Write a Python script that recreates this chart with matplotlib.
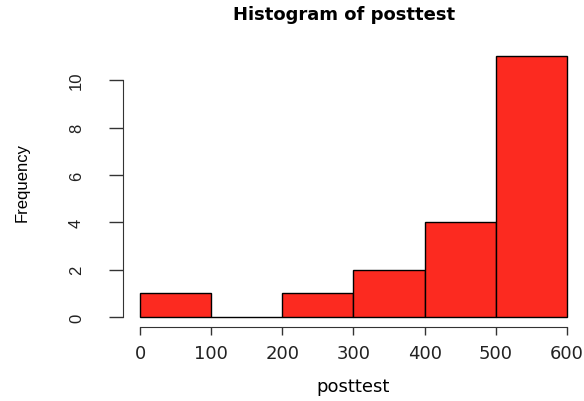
import matplotlib.pyplot as plt

plt.rcParams['font.family'] = ['Liberation Sans', 'DejaVu Sans']

# histogram bins and counts
bin_edges = [0, 100, 200, 300, 400, 500, 600]
counts = [1, 0, 1, 2, 4, 11]
x_ticks = [0, 100, 200, 300, 400, 500, 600]
y_ticks = [0, 2, 4, 6, 8, 10]

fig = plt.figure(figsize=(5.84, 4.02), dpi=100)
ax = fig.add_axes([0.2106, 0.183, 0.7894, 0.70])

lefts = bin_edges[:-1]
widths = [b - a for a, b in zip(bin_edges[:-1], bin_edges[1:])]
ax.bar(lefts, counts, width=widths, align='edge', color='#fc2a20',
       edgecolor='black', linewidth=1.0)

ax.set_xlim(-24, 624)
ax.set_ylim(-0.44, 11.44)

for s in ['top', 'right']:
    ax.spines[s].set_visible(False)
ax.spines['left'].set_bounds(0, 10)
ax.spines['bottom'].set_bounds(0, 600)
ax.spines['left'].set_color('#333333')
ax.spines['bottom'].set_color('#333333')

ax.set_xticks(x_ticks)
ax.set_yticks(y_ticks)
ax.tick_params(direction='out', width=1, colors='#333333', labelcolor='#222222')
ax.tick_params(axis='x', length=6, pad=6, labelsize=13)
ax.tick_params(axis='y', length=10, pad=18, labelsize=12)
for lab in ax.get_xticklabels():
    lab.set_family('DejaVu Sans')
for lab in ax.get_yticklabels():
    lab.set_rotation(90)
    lab.set_va('center')

ax.set_xlabel('posttest', fontsize=13, labelpad=11, family='DejaVu Sans')
ax.set_ylabel('Frequency', fontsize=12, va='center')
ax.yaxis.set_label_coords(-0.219, 0.52)
fig.suptitle('Histogram of posttest', fontsize=13, fontweight='bold',
             x=0.59, y=0.985, family='DejaVu Sans')

fig.savefig('out.png', dpi=100)
